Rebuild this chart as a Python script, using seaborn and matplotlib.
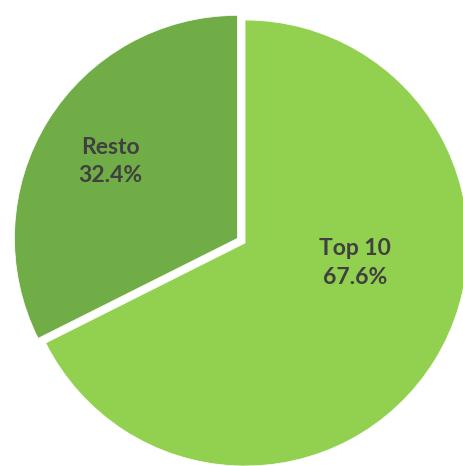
import matplotlib
matplotlib.use("Agg")
import matplotlib.pyplot as plt
import seaborn as sns

# Share of records: top 10 vs the rest
labels = ["Top 10", "Resto"]
shares = [67.6, 32.4]
colors = ["#92D050", "#70AD47"]
explode = [0, 0.04]

sns.set_theme(style="white")
plt.rcParams['font.family'] = ['Lato', 'DejaVu Sans']

fig = plt.figure(figsize=(4.64, 4.66), dpi=100)
ax = fig.add_axes([0, 0, 1, 1])

wedges, _ = ax.pie(shares, colors=colors, explode=explode, startangle=90,
                   counterclock=False, radius=1,
                   wedgeprops=dict(edgecolor="white", linewidth=0.5))

# label positions (Excel-style placement)
label_pos = [(0.495, -0.09), (-0.605, 0.365)]
for lab, val, (x, y) in zip(labels, shares, label_pos):
    ax.text(x, y, f"{lab}\n{val:.1f}%", ha="center", va="center",
            fontsize=16.5, fontweight="bold", color="#404040", linespacing=1.45)

ax.set_xlim(-1.099, 0.982)
ax.set_ylim(-1.0, 1.09)
ax.axis("off")

fig.savefig("out.png", dpi=100, facecolor="white")
